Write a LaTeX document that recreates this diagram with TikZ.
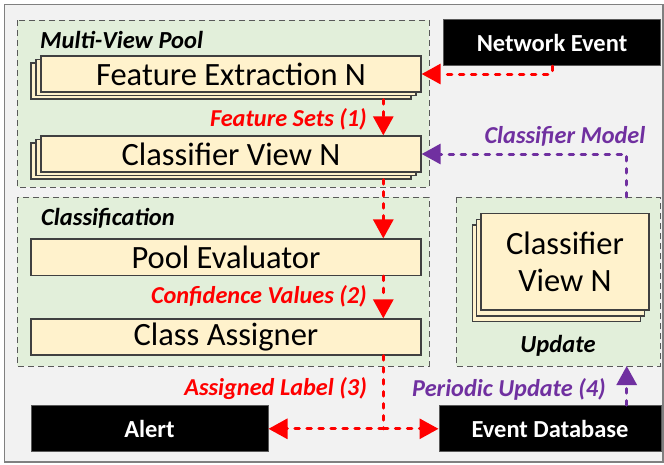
\documentclass[tikz,border=0pt]{standalone}
\usepackage{fontspec}
\setmainfont{Carlito}
\usetikzlibrary{arrows.meta,calc}
\definecolor{bgc}{HTML}{F2F2F2}
\definecolor{grn}{HTML}{E2EFDA}
\definecolor{ylw}{HTML}{FFF2CC}
\definecolor{prp}{HTML}{7030A0}
\definecolor{edg}{HTML}{404040}
\definecolor{dgr}{HTML}{595959}
\tikzset{
  grpbox/.style={draw=dgr, fill=grn, line width=1pt, dash pattern=on 6pt off 4pt},
  ybox/.style={draw=edg, fill=ylw, line width=1.3pt, inner sep=0pt, font=\fontsize{32.5}{38}\selectfont},
  bbox/.style={draw=dgr, fill=black, line width=1pt, inner sep=0pt, text=white, font=\fontsize{24.5}{28}\selectfont\bfseries},
  grplabel/.style={font=\fontsize{24.5}{28}\selectfont\bfseries\itshape, inner sep=0pt},
  flowlabel/.style={font=\fontsize{24.3}{28}\selectfont\bfseries\itshape, inner sep=0pt},
  conn/.style={line width=3pt, line cap=round, dash pattern=on 4.5pt off 7.5pt,
    -{Triangle[length=19pt,width=20pt]}},
  redc/.style={conn, draw=red},
  prpc/.style={conn, draw=prp},
}
\begin{document}
\begin{tikzpicture}[x=1pt,y=-1pt]
\useasboundingbox (0,0) rectangle (664,464);
\draw[draw=gray, fill=bgc, line width=1.3pt] (4.5,4.5) rectangle (663,462);
% group boxes
\draw[grpbox] (17,20) rectangle (429,187);
\draw[grpbox] (17,197) rectangle (429,366);
\draw[grpbox] (456,197) rectangle (660,366);
\node[grplabel, anchor=west] (mvp) at (40,40) {Multi-View Pool};
\node[grplabel, anchor=west] (cls) at (41,218) {Classification};
\node[grplabel] (upl) at (558,346) {Update};
% Feature extraction stack
\node[ybox, minimum width=380pt, minimum height=36pt] (fe3) at (221,81) {};
\node[ybox, minimum width=380pt, minimum height=36pt] (fe2) at (226,77.5) {};
\node[ybox, minimum width=380pt, minimum height=36pt] (fe) at (231,74) {Feature Extraction N};
% Classifier view stack
\node[ybox, minimum width=380pt, minimum height=36pt] (cv3) at (221,161) {};
\node[ybox, minimum width=380pt, minimum height=36pt] (cv2) at (226,157.5) {};
\node[ybox, minimum width=380pt, minimum height=36pt] (cv) at (231,154) {Classifier View N};
% classification
\node[ybox, minimum width=390pt, minimum height=36.5pt] (pe) at (226,257.3) {Pool Evaluator};
\node[ybox, minimum width=390pt, minimum height=36pt] (ca) at (226,337) {Class Assigner};
% update stack
\node[ybox, minimum width=168pt, minimum height=96.7pt] (up3) at (556.6,273.3) {};
\node[ybox, minimum width=168pt, minimum height=96.7pt] (up2) at (560.8,267.5) {};
\node[ybox, minimum width=168pt, minimum height=96.7pt, align=center] (up) at (565,261.7) {Classifier\\[-1pt]View N};
% black boxes
\node[bbox, minimum width=217.7pt, minimum height=46.4pt] (ne) at (552,42.5) {Network Event};
\node[bbox, minimum width=237pt, minimum height=46.3pt] (al) at (149.5,428.8) {Alert};
\node[bbox, minimum width=222pt, minimum height=46.3pt] (ed) at (550,428.8) {Event Database};
% helper coordinates
\coordinate (xcol) at (383.3,0);
\coordinate (pcol) at (626.7,0);
\coordinate (split) at (383.3,428.8);
\coordinate (uptop) at (626.7,197);
% connectors
\draw[redc] (ne.south) |- (fe.east);
\draw[redc] (fe3.south -| xcol) -- (cv.north -| xcol);
\draw[redc] (cv3.south -| xcol) -- (pe.north -| xcol);
\draw[redc] (pe.south -| xcol) -- (ca.north -| xcol);
\draw[redc, -] (ca.south -| xcol) -- (split);
\draw[redc] (split) -- (al.east);
\draw[redc] (split) -- (ed.west);
\draw[prpc] (ed.north -| pcol) -- (uptop |- 0,366);
\draw[prpc] (uptop) |- (cv.east);
% flow labels
\node[flowlabel, text=red, anchor=east] (l1) at (367,119) {Feature Sets (1)};
\node[flowlabel, text=prp] (l2) at (565,136.7) {Classifier Model};
\node[flowlabel, text=red, anchor=east] (l3) at (367,296.7) {Confidence Values (2)};
\node[flowlabel, text=red, anchor=east] (l4) at (367,389) {Assigned Label (3)};
\node[flowlabel, text=prp] (l5) at (509,389) {Periodic Update (4)};
\end{tikzpicture}
\end{document}
